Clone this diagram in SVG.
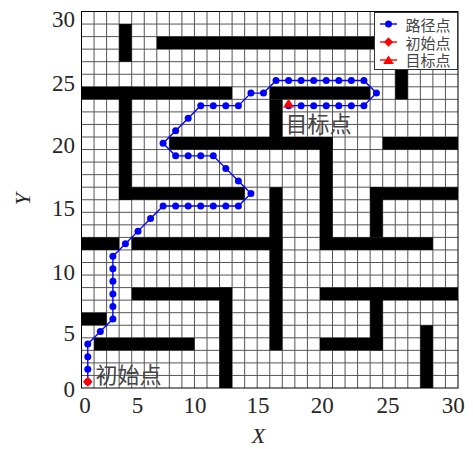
<svg xmlns="http://www.w3.org/2000/svg" width="473" height="449" viewBox="0 0 473 449">
<defs>
<style>
.tick{font-family:"Liberation Serif","Times New Roman",serif;font-size:23px;fill:#262626}
.ax{font-family:"Liberation Serif","Times New Roman",serif;font-size:22px;font-style:italic;fill:#262626}
.cjk{font-family:"Noto Sans CJK SC","Noto Sans",sans-serif;fill:#444}
.grid{fill:none;stroke:#555;stroke-width:1}
.obs{fill:#000}
.path{fill:none;stroke:#0000ff;stroke-width:1.4}
</style>
<marker id="dot" markerUnits="userSpaceOnUse" markerWidth="10" markerHeight="10" refX="5" refY="5" viewBox="0 0 10 10">
<circle cx="5" cy="5" r="3.5" fill="#0000ff"/>
</marker>
</defs>
<rect width="473" height="449" fill="#fff"/>
<g id="plot" transform="translate(81.5 388) scale(12.55 -12.55)">
<path class="grid" vector-effect="non-scaling-stroke" d="M1 0V30M2 0V30M3 0V30M4 0V30M5 0V30M6 0V30M7 0V30M8 0V30M9 0V30M10 0V30M11 0V30M12 0V30M13 0V30M14 0V30M15 0V30M16 0V30M17 0V30M18 0V30M19 0V30M20 0V30M21 0V30M22 0V30M23 0V30M24 0V30M25 0V30M26 0V30M27 0V30M28 0V30M29 0V30M0 1H30M0 2H30M0 3H30M0 4H30M0 5H30M0 6H30M0 7H30M0 8H30M0 9H30M0 10H30M0 11H30M0 12H30M0 13H30M0 14H30M0 15H30M0 16H30M0 17H30M0 18H30M0 19H30M0 20H30M0 21H30M0 22H30M0 23H30M0 24H30M0 25H30M0 26H30M0 27H30M0 28H30M0 29H30"/>
<g id="obstacles" class="obs">
<rect x="3" y="26" width="1" height="3"/>
<rect x="6" y="27" width="18" height="1"/>
<rect x="0" y="23" width="12" height="1"/>
<rect x="15" y="23" width="8" height="1"/>
<rect x="25" y="23" width="1" height="3"/>
<rect x="3" y="15" width="1" height="9"/>
<rect x="3" y="15" width="10" height="1"/>
<rect x="7" y="19" width="13" height="1"/>
<rect x="15" y="20" width="1" height="3"/>
<rect x="19" y="11" width="1" height="9"/>
<rect x="24" y="19" width="6" height="1"/>
<rect x="23" y="15" width="7" height="1"/>
<rect x="23" y="12" width="1" height="4"/>
<rect x="0" y="11" width="3" height="1"/>
<rect x="4" y="11" width="12" height="1"/>
<rect x="19" y="11" width="9" height="1"/>
<rect x="15" y="3" width="1" height="13"/>
<rect x="4" y="7" width="8" height="1"/>
<rect x="11" y="0" width="1" height="8"/>
<rect x="19" y="7" width="11" height="1"/>
<rect x="23" y="3" width="1" height="5"/>
<rect x="19" y="3" width="5" height="1"/>
<rect x="27" y="0" width="1" height="5"/>
<rect x="0" y="5" width="2" height="1"/>
<rect x="1" y="3" width="8" height="1"/>
</g>
</g>
<rect id="frame" x="81.5" y="11.5" width="376.5" height="376.5" fill="none" stroke="#000" stroke-width="1"/>
<g id="connectors">
<polyline id="route" class="path" marker-start="url(#dot)" marker-mid="url(#dot)" marker-end="url(#dot)" points="87.78,381.73 87.78,369.18 87.78,356.63 87.78,344.08 100.33,331.53 112.88,318.98 112.88,306.43 112.88,293.88 112.88,281.33 112.88,268.78 112.88,256.23 125.43,243.68 137.98,231.13 150.53,218.58 163.08,206.03 175.63,206.03 188.18,206.03 200.73,206.03 213.28,206.03 225.83,206.03 238.38,206.03 250.93,193.48 238.38,180.93 225.83,168.38 213.28,155.83 200.73,155.83 188.18,155.83 175.63,155.83 163.08,143.28 175.63,130.73 188.18,118.18 200.73,105.63 213.28,105.63 225.83,105.63 238.38,105.63 250.93,93.08 263.48,93.08 276.03,80.53 288.58,80.53 301.13,80.53 313.68,80.53 326.23,80.53 338.78,80.53 351.33,80.53 363.88,80.53 376.43,93.08 363.88,105.63 351.33,105.63 338.78,105.63 326.23,105.63 313.68,105.63 301.13,105.63 288.58,105.63"/>
</g>
<g id="start">
<polygon points="87.78,376.7 92.6,381.73 87.78,386.8 82.9,381.73" fill="#ff0000"/>
<text class="cjk" x="95.5" y="383" font-size="22">初始点</text>
</g>
<g id="goal">
<polygon points="288.58,98.8 294.2,107.6 283,107.6" fill="#ff0000"/>
<text class="cjk" x="285.5" y="131.5" font-size="22">目标点</text>
</g>
<g id="ticks">
<text class="tick" x="85" y="413" text-anchor="middle">0</text>
<text class="tick" x="137.5" y="413" text-anchor="middle">5</text>
<text class="tick" x="195" y="413" text-anchor="middle">10</text>
<text class="tick" x="258" y="413" text-anchor="middle">15</text>
<text class="tick" x="322.3" y="413" text-anchor="middle">20</text>
<text class="tick" x="388" y="413" text-anchor="middle">25</text>
<text class="tick" x="453.3" y="413" text-anchor="middle">30</text>
<text class="tick" x="75" y="397" text-anchor="end">0</text>
<text class="tick" x="75" y="341" text-anchor="end">5</text>
<text class="tick" x="75" y="279.5" text-anchor="end">10</text>
<text class="tick" x="75" y="216" text-anchor="end">15</text>
<text class="tick" x="75" y="153" text-anchor="end">20</text>
<text class="tick" x="75" y="91" text-anchor="end">25</text>
<text class="tick" x="75" y="26.7" text-anchor="end">30</text>
<text class="ax" x="258.5" y="443" text-anchor="middle">X</text>
<text class="ax" transform="translate(30 199) rotate(-90)" text-anchor="middle">Y</text>
</g>
<g id="legend">
<rect x="374.5" y="12.5" width="83" height="57" fill="#fff" stroke="#333" stroke-width="1"/>
<line x1="380" y1="24" x2="397" y2="24" stroke="#0000ff" stroke-width="1.4"/>
<circle cx="388.5" cy="24" r="3.5" fill="#0000ff"/>
<line x1="380" y1="42" x2="397" y2="42" stroke="#ff0000" stroke-width="1.4"/>
<polygon points="388.5,37.2 393,42 388.5,46.8 384,42" fill="#ff0000"/>
<line x1="380" y1="60" x2="397" y2="60" stroke="#ff0000" stroke-width="1.4"/>
<polygon points="388.5,55.5 393.8,64 383.2,64" fill="#ff0000"/>
<text class="cjk" x="405.5" y="30.5" font-size="15">路径点</text>
<text class="cjk" x="405.5" y="48.5" font-size="15">初始点</text>
<text class="cjk" x="405.5" y="66" font-size="15">目标点</text>
</g>
</svg>
